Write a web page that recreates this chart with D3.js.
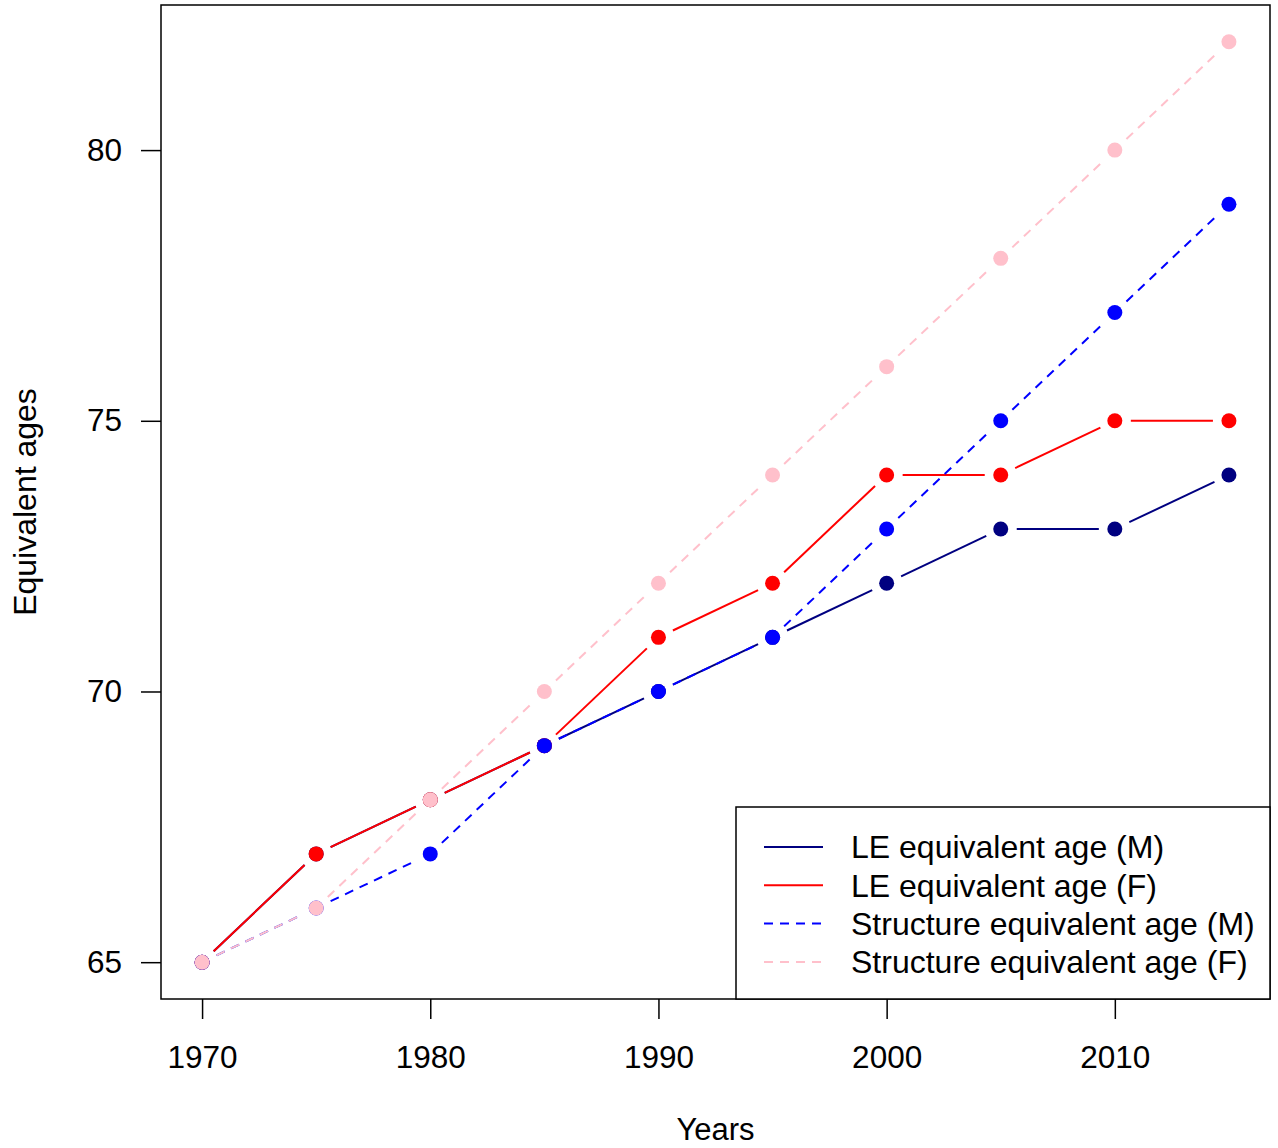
<!DOCTYPE html>
<meta charset="utf-8">
<title>Equivalent ages</title>
<script src="https://cdn.jsdelivr.net/npm/d3@7"></script>
<style>
body { margin:0; background:#fff; }
svg { font-family: Arial, "Liberation Sans", sans-serif; }
.axis text { font-size:31.5px; fill:#000; }
.axis path, .axis line { stroke:#000; stroke-width:1.5px; }
</style>
<svg width="1278" height="1148"></svg>
<script>

var years = [1970, 1975, 1980, 1985, 1990, 1995, 2000, 2005, 2010, 2015];
var leMale = [65, 67, 68, 69, 70, 71, 72, 73, 73, 74];
var leFemale = [65, 67, 68, 69, 71, 72, 74, 74, 75, 75];
var strMale = [65, 66, 67, 69, 70, 71, 73, 75, 77, 79];
var strFemale = [65, 66, 68, 70, 72, 74, 76, 78, 80, 82];
var xTicks = [1970, 1980, 1990, 2000, 2010];
var yTicks = [65, 70, 75, 80];

var series = [
  {name: "LE equivalent age (M)", values: leMale, color: "#000080", dash: null},
  {name: "LE equivalent age (F)", values: leFemale, color: "#ff0000", dash: null},
  {name: "Structure equivalent age (M)", values: strMale, color: "#0000ff", dash: "9,7"},
  {name: "Structure equivalent age (F)", values: strFemale, color: "#ffc0cb", dash: "9,7"}
];

var svg = d3.select("svg"),
    margin = {top: 5, right: 8, bottom: 149, left: 161},
    width = +svg.attr("width") - margin.left - margin.right,
    height = +svg.attr("height") - margin.top - margin.bottom;

// R style 4% padding on both axes
var x = d3.scaleLinear().domain([1968.2, 2016.8]).range([0, width]),
    y = d3.scaleLinear().domain([64.32, 82.68]).range([height, 0]);

var g = svg.append("g")
    .attr("transform", "translate(" + margin.left + "," + margin.top + ")");

g.append("g")
    .attr("class", "axis")
    .attr("transform", "translate(0," + height + ")")
    .call(d3.axisBottom(x).tickValues(xTicks).tickFormat(d3.format("d")).tickSize(20).tickPadding(27))
    .call(function(a) { a.select(".domain").remove(); });

g.append("g")
    .attr("class", "axis")
    .call(d3.axisLeft(y).tickValues(yTicks).tickSize(20).tickPadding(19))
    .call(function(a) { a.select(".domain").remove(); });

g.append("rect")
    .attr("width", width).attr("height", height)
    .attr("fill", "none").attr("stroke", "#000").attr("stroke-width", 1.5);

svg.append("text")
    .attr("x", margin.left + x(1992.5)).attr("y", 1140)
    .attr("text-anchor", "middle").attr("font-size", 31)
    .text("Years");

svg.append("text")
    .attr("transform", "translate(36," + (margin.top + height / 2) + ") rotate(-90)")
    .attr("text-anchor", "middle").attr("font-size", 32)
    .text("Equivalent ages");

// type="b": segments with gaps around points
var gap = 16;
series.forEach(function(s) {
  var pts = years.map(function(yr, i) { return [x(yr), y(s.values[i])]; });
  for (var i = 0; i < pts.length - 1; i++) {
    var p0 = pts[i], p1 = pts[i + 1],
        dx = p1[0] - p0[0], dy = p1[1] - p0[1],
        len = Math.sqrt(dx * dx + dy * dy);
    if (len <= 2 * gap) continue;
    var ux = dx / len, uy = dy / len;
    g.append("line")
        .attr("x1", p0[0] + ux * gap).attr("y1", p0[1] + uy * gap)
        .attr("x2", p1[0] - ux * gap).attr("y2", p1[1] - uy * gap)
        .attr("stroke", s.color).attr("stroke-width", 2)
        .attr("stroke-dasharray", s.dash);
  }
  g.selectAll(null)
    .data(s.values)
    .enter().append("circle")
      .attr("cx", function(d, i) { return x(years[i]); })
      .attr("cy", function(d) { return y(d); })
      .attr("r", 7.5)
      .attr("fill", s.color);
});

// legend
var lg = svg.append("g").attr("transform", "translate(736,807)");
lg.append("rect")
    .attr("width", 1270 - 736).attr("height", 999 - 807)
    .attr("fill", "#fff").attr("stroke", "#000").attr("stroke-width", 1.5);
series.forEach(function(s, i) {
  var yy = 40 + i * 38.3;
  lg.append("line")
      .attr("x1", 28).attr("x2", 87).attr("y1", yy).attr("y2", yy)
      .attr("stroke", s.color).attr("stroke-width", 2)
      .attr("stroke-dasharray", s.dash);
  lg.append("text")
      .attr("x", 115).attr("y", yy).attr("dy", "0.35em")
      .attr("font-size", 32)
      .text(s.name);
});

</script>
</html>
